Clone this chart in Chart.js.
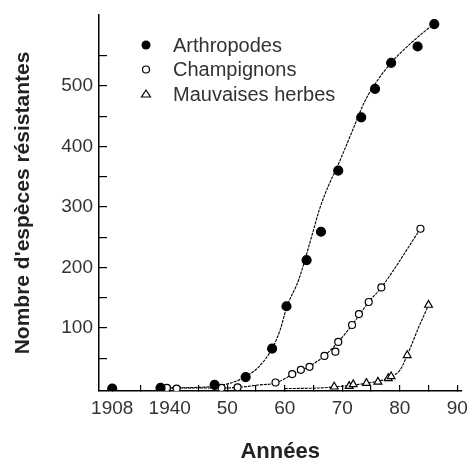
<!DOCTYPE html>
<html>
<head>
<meta charset="utf-8">
<script src="https://cdn.jsdelivr.net/npm/chart.js@4/dist/chart.umd.min.js"></script>
<style>
html,body{margin:0;padding:0;background:#fff;}
</style>
</head>
<body>
<canvas id="chart" width="467" height="463"></canvas>
<script>
// Arthropodes (points relevés)
const arthroYears  = [1908, 1938.4, 1947.8, 1953.2, 1957.8, 1960.3, 1963.8, 1966.3, 1969.3, 1973.3, 1975.7, 1978.5, 1983.1, 1986.0];
const arthroValues = [0, 1, 6, 19, 66, 136, 212, 259, 360, 448, 495, 538, 565, 602];
// courbe lissée tracée sur la figure
const arthroCurveYears  = [1938, 1945, 1948, 1950.9, 1953.2, 1955.5, 1957.8, 1959.2, 1960.4, 1962.4, 1965, 1966, 1967.6, 1969.3, 1971.6, 1973.9, 1976.2, 1978.5, 1982, 1985.4, 1986];
const arthroCurveValues = [1, 2, 4, 10, 20, 36, 66, 97, 136, 179, 262, 295, 335, 370, 422, 474, 510, 538, 571, 598, 602];

// Champignons
const champYears  = [1939.5, 1941.2, 1949, 1951.8, 1958.4, 1961.3, 1962.8, 1964.3, 1966.9, 1968.8, 1969.3, 1971.7, 1972.9, 1974.6, 1976.8, 1983.6];
const champValues = [1, 0, 1, 2, 10, 24, 31, 36, 54, 61, 77, 105, 123, 143, 167, 264];
const champCurveYears  = [1939, 1950, 1952, 1955.5, 1958.3, 1961.3, 1964.7, 1967, 1969.3, 1971.7, 1974.6, 1976.8, 1983.6];
const champCurveValues = [1, 1, 2, 6, 9, 23, 39, 55, 77, 105, 143, 167, 264];

// Mauvaises herbes
const weedYears  = [1968.6, 1971.2, 1971.9, 1974.2, 1976.2, 1978.0, 1978.5, 1981.3, 1985.0];
const weedValues = [3, 4, 7, 9, 11, 17, 20, 55, 138];
const weedCurveYears  = [1960, 1966, 1969, 1972, 1975, 1977, 1978.5, 1980, 1981.3, 1983.1, 1985];
const weedCurveValues = [0, 1, 3, 6, 10, 14, 20, 30, 55, 97, 138];

const seriesNames = ['Arthropodes', 'Champignons', 'Mauvaises herbes'];

// axe des x coupé : 1908 placé à la position 1930
const xTickValues = [1930, 1940, 1950, 1960, 1970, 1980, 1990];
const xTickLabels = ['1908', '1940', '50', '60', '70', '80', '90'];
const yTickLabels = [100, 200, 300, 400, 500];

const axisYear = y => (y < 1930 ? 1930 : y);
const pts = (xs, ys) => xs.map((x, i) => ({ x: axisYear(x), y: ys[i] }));

const FONT = '"Liberation Sans", Arial, sans-serif';

const markerSet = (label, xs, ys, style, fill, radius) => ({
  label, data: pts(xs, ys), showLine: false, order: 0,
  pointStyle: style, pointRadius: radius, pointBorderWidth: 1.2,
  pointBackgroundColor: fill, pointBorderColor: '#000'
});
const curveSet = (xs, ys) => ({
  label: '', data: pts(xs, ys), order: 1,
  borderColor: '#000', borderWidth: 1.1, borderDash: [3, 1],
  pointRadius: 0, cubicInterpolationMode: 'monotone', fill: false
});

// légende dessinée dans la zone du graphique
const insideLegend = {
  id: 'insideLegend',
  afterDraw(chart) {
    const { ctx, chartArea } = chart;
    const mx = chartArea.left + 47, tx = chartArea.left + 74, y0 = chartArea.top + 30;
    ctx.save();
    ctx.font = '20px ' + FONT;
    ctx.textBaseline = 'middle';
    seriesNames.forEach((name, i) => {
      const y = y0 + i * 24.5;
      ctx.strokeStyle = '#000';
      ctx.lineWidth = 1.2;
      ctx.beginPath();
      if (i === 0) {
        ctx.arc(mx, y, 4.5, 0, Math.PI * 2);
        ctx.fillStyle = '#000'; ctx.fill();
      } else if (i === 1) {
        ctx.arc(mx, y, 3.5, 0, Math.PI * 2);
        ctx.fillStyle = '#fff'; ctx.fill(); ctx.stroke();
      } else {
        ctx.moveTo(mx, y - 4); ctx.lineTo(mx + 4.5, y + 3); ctx.lineTo(mx - 4.5, y + 3); ctx.closePath();
        ctx.fillStyle = '#fff'; ctx.fill(); ctx.stroke();
      }
      ctx.fillStyle = '#333';
      ctx.fillText(name, tx, y + 1);
    });
    ctx.restore();
  }
};

new Chart(document.getElementById('chart'), {
  type: 'line',
  data: {
    datasets: [
      markerSet(seriesNames[0], arthroYears, arthroValues, 'circle', '#000', 4.5),
      markerSet(seriesNames[1], champYears, champValues, 'circle', '#fff', 3.5),
      markerSet(seriesNames[2], weedYears, weedValues, 'triangle', '#fff', 4.5),
      curveSet(arthroCurveYears, arthroCurveValues),
      curveSet(champCurveYears, champCurveValues),
      curveSet(weedCurveYears, weedCurveValues)
    ]
  },
  options: {
    responsive: false,
    animation: false,
    layout: { padding: { top: 15, right: 5, left: 0, bottom: 0 } },
    plugins: { legend: { display: false }, tooltip: { enabled: false } },
    scales: {
      x: {
        type: 'linear', min: 1927.7, max: 1990.7,
        afterBuildTicks: s => { const t = []; for (let v = 1930; v <= 1990; v += 5) t.push({ value: v }); s.ticks = t; },
        afterFit: s => { s.height = 72; s.paddingLeft = 0; s.paddingRight = 0; },
        border: { color: '#000', width: 1.5 },
        grid: { drawOnChartArea: false, tickLength: -6, color: '#000', lineWidth: 1.2 },
        ticks: {
          autoSkip: false, maxRotation: 0, padding: 12, color: '#333',
          font: { family: FONT, size: 19 },
          callback: v => { const i = xTickValues.indexOf(v); return i >= 0 ? xTickLabels[i] : ''; }
        },
        title: { display: true, text: 'Années', color: '#222', font: { family: FONT, size: 22, weight: 'bold', lineHeight: 1 }, padding: { top: 0, bottom: 0 } }
      },
      y: {
        type: 'linear', min: -4, max: 617,
        afterBuildTicks: s => { const t = []; for (let v = 50; v <= 550; v += 50) t.push({ value: v }); s.ticks = t; },
        afterFit: s => { s.width = 99; s.paddingTop = 0; s.paddingBottom = 0; },
        border: { color: '#000', width: 1.5 },
        grid: { drawOnChartArea: false, tickLength: -8, color: '#000', lineWidth: 1.2 },
        ticks: {
          padding: 14, color: '#333',
          font: { family: FONT, size: 19 },
          callback: v => (yTickLabels.includes(v) ? String(v) : '')
        },
        title: { display: true, text: "Nombre d'espèces résistantes", color: '#222', font: { family: FONT, size: 21, weight: 'bold', lineHeight: 1.2 }, padding: { top: 11, bottom: 0 } }
      }
    }
  },
  plugins: [insideLegend]
});
</script>
</body>
</html>
